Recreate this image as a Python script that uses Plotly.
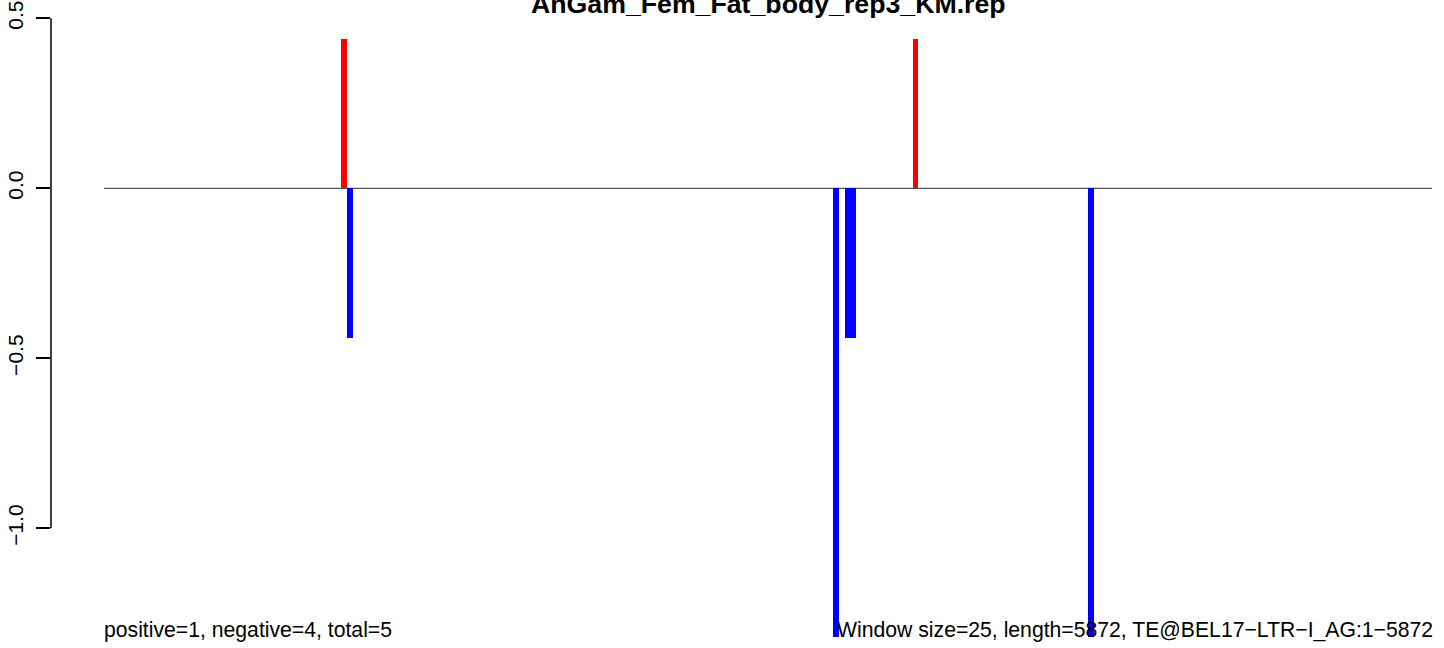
import plotly.graph_objects as go

# ---- data ----
title_text = "AnGam_Fem_Fat_body_rep3_KM.rep"
seq_start = 1
seq_length = 5872
window_size = 25

pos_window_starts = [1051, 3576]
pos_values = [0.44, 0.44]

neg_window_starts = [1076, 3226, 3276, 3301, 4351]
neg_values = [-0.44, -1.32, -0.44, -0.44, -1.32]

y_tick_vals = [0.5, 0.0, -0.5, -1.0]

left_note = "positive=1, negative=4, total=5"
right_note = "Window size=25, length=5872, TE@BEL17\u2212LTR\u2212I_AG:1\u22125872"

# ---- layout geometry ----
W, H = 1444, 648
ml, mr, mt, mb = 51, 0, 0, 11
plot_w = W - ml - mr
plot_h = H - mt - mb

px_per_unit_x = (1432 - 104) / (seq_length - seq_start)
x0 = seq_start - (104 - ml) / px_per_unit_x
x1 = x0 + plot_w / px_per_unit_x

px_per_unit_y = 340.0
y_zero_px = 188.3
y1 = (y_zero_px - mt) / px_per_unit_y
y0 = -(plot_h - (y_zero_px - mt)) / px_per_unit_y

FONT = "Liberation Sans, Arial, Helvetica, sans-serif"

fig = go.Figure()
fig.add_trace(go.Bar(
    x=[s + window_size / 2 - 0.5 for s in pos_window_starts],
    y=pos_values, width=window_size,
    marker=dict(color="#FF0000", line=dict(width=0)),
    showlegend=False, hoverinfo="skip",
))
fig.add_trace(go.Bar(
    x=[s + window_size / 2 - 0.5 for s in neg_window_starts],
    y=neg_values, width=window_size,
    marker=dict(color="#0000FF", line=dict(width=0)),
    showlegend=False, hoverinfo="skip",
))

# zero line across the sequence
fig.add_shape(type="line", xref="x", yref="y",
              x0=seq_start, x1=seq_length, y0=0, y1=0,
              line=dict(color="#555555", width=1.2), layer="below")
# R-style axis line spanning tick range only
fig.add_shape(type="line", xref="paper", yref="y",
              x0=0, x1=0, y0=min(y_tick_vals), y1=max(y_tick_vals),
              line=dict(color="black", width=1.5))

fig.add_annotation(x=(seq_start + seq_length) / 2, xref="x",
                   y=(plot_h - 4) / plot_h, yref="paper",
                   text=f"<b>{title_text}</b>", showarrow=False,
                   xanchor="center", yanchor="middle",
                   font=dict(family=FONT, size=26.7, color="black"))

note_y = -(630 - y_zero_px) / px_per_unit_y
fig.add_annotation(x=seq_start, xref="x", y=note_y, yref="y",
                   text=left_note, showarrow=False, xshift=-2,
                   xanchor="left", yanchor="middle",
                   font=dict(family=FONT, size=21.2, color="black"))
fig.add_annotation(x=seq_length, xref="x", y=note_y, yref="y",
                   text=right_note, showarrow=False, xshift=3,
                   xanchor="right", yanchor="middle",
                   font=dict(family=FONT, size=21.2, color="black"))

fig.update_layout(
    width=W, height=H, autosize=False,
    margin=dict(l=ml, r=mr, t=mt, b=mb, pad=0),
    paper_bgcolor="white", plot_bgcolor="white",
    barmode="overlay", bargap=0, bargroupgap=0,
    xaxis=dict(range=[x0, x1], visible=False, showgrid=False, zeroline=False),
    yaxis=dict(range=[y0, y1], showgrid=False, zeroline=False, showline=False,
               tickmode="array", tickvals=y_tick_vals, tickformat=".1f",
               ticks="outside", ticklen=14, tickwidth=1.5, tickcolor="black",
               tickangle=-90, ticklabelstandoff=5,
               tickfont=dict(family=FONT, size=21, color="black")),
    font=dict(family=FONT),
)

fig.write_html("out.html", config={"displayModeBar": False},
               post_script="document.body.style.margin='0';document.body.style.overflow='hidden';")
